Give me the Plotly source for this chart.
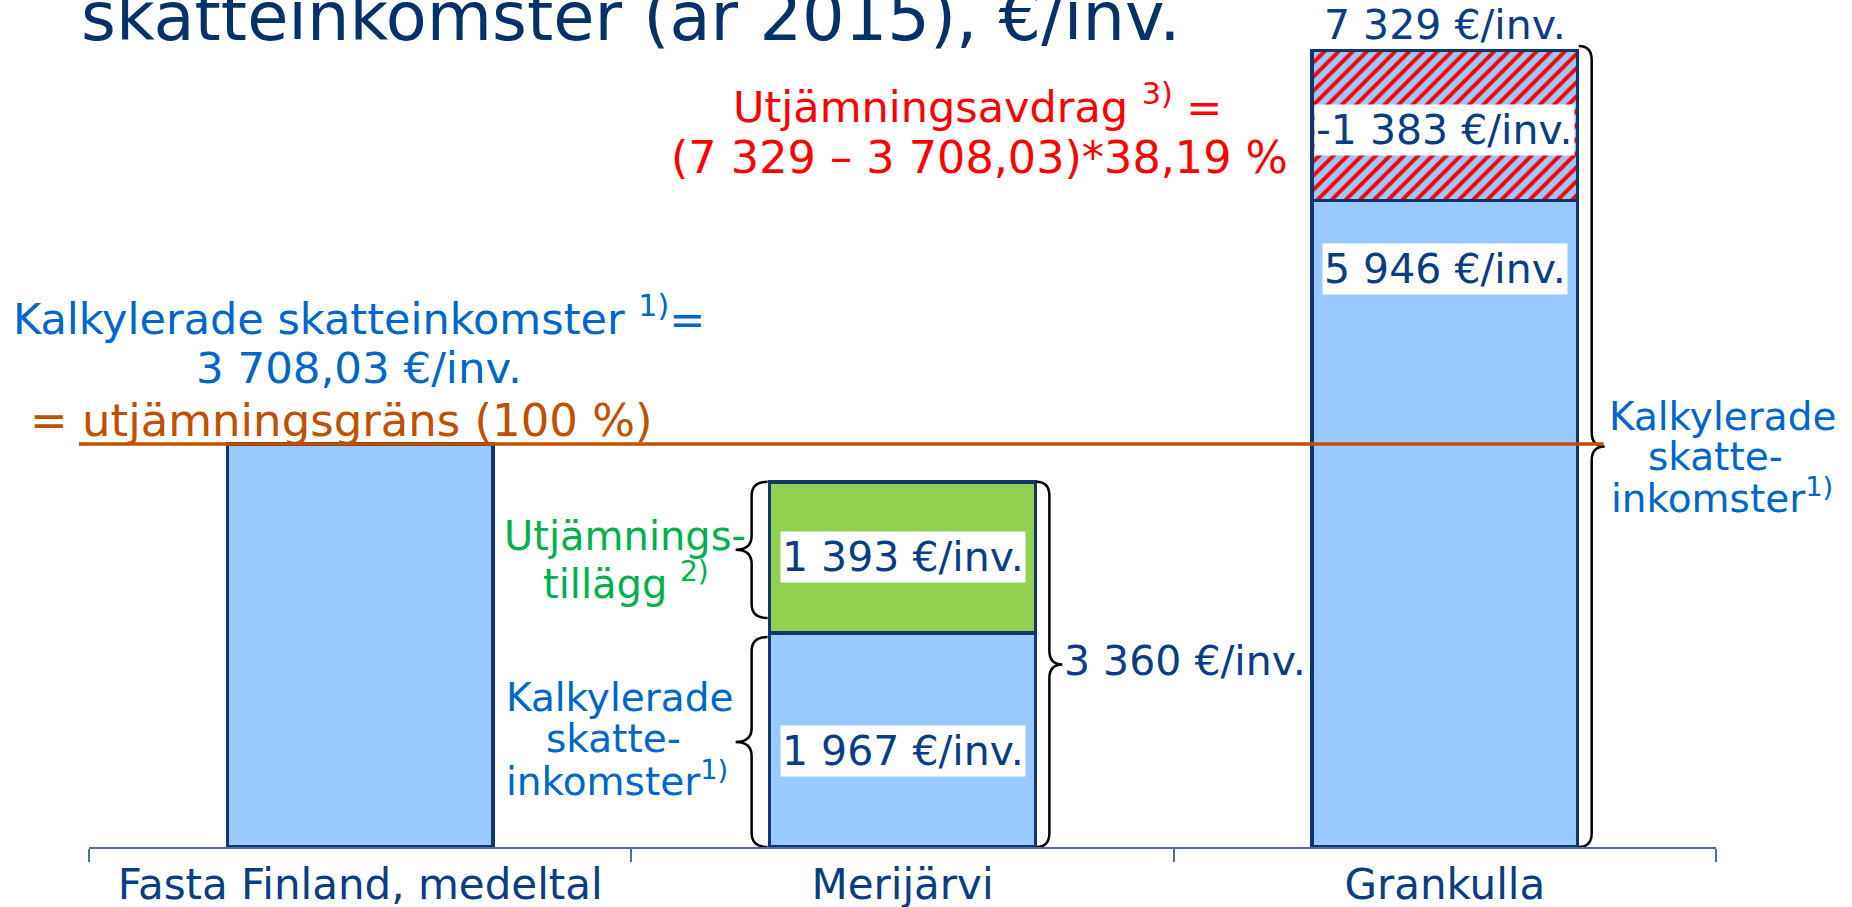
import plotly.graph_objects as go

# ---------------- data ----------------
categories = ["Fasta Finland, medeltal", "Merijärvi", "Grankulla"]
kalkylerade = [3708.03, 1967, 5946]          # Kalkylerade skatteinkomster
tillagg = [None, 1393, None]                 # Utjämningstillägg
avdrag = [None, None, 1383]                  # Utjämningsavdrag (hatched)
totals = [3708.03, 3360, 7329]
grans = 3708.03                              # utjämningsgräns (100 %)

# ---------------- geometry / style ----------------
W, H = 1852, 907
ML, MR, MT, MB = 89, 136, 0, 60
PW, PH = W - ML - MR, H - MT - MB
Y_MAX = 7792
BAR_W = 0.49
UX = 3.0 / PW            # data units per pixel (x)
UY = Y_MAX / PH          # data units per pixel (y)

LIGHT_BLUE = "#99C9FF"
GREEN = "#92D050"
OUTLINE = "#12366B"
NAVY_TXT = "#0A3D84"
TITLE_C = "#073167"
BLUE_TXT = "#0066CC"
GREEN_TXT = "#00B050"
RED = "#FF0000"
ORANGE = "#C04F00"
AXIS_C = "#4F6E9C"
FONT = "DejaVu Sans"


def fmt(v):
    return f"{v:,.0f}".replace(",", " ") + " €/inv."


def px_x(p):
    return (p - ML) / PW


def px_y(p):
    return 1 - (p - MT) / PH


fig = go.Figure()
xs = list(range(len(categories)))
fig.add_bar(x=xs, y=kalkylerade, width=BAR_W, name="Kalkylerade skatteinkomster",
            marker=dict(color=LIGHT_BLUE, line=dict(color=OUTLINE, width=3.5)))
fig.add_bar(x=xs, y=tillagg, width=BAR_W, name="Utjämningstillägg",
            marker=dict(color=GREEN, line=dict(color=OUTLINE, width=3.5)))
fig.add_bar(x=xs, y=avdrag, width=BAR_W, name="Utjämningsavdrag",
            marker=dict(color=LIGHT_BLUE, line=dict(color=OUTLINE, width=3.5),
                        pattern=dict(shape="/", fgcolor=RED, bgcolor=LIGHT_BLUE,
                                     size=10, solidity=0.4)))


def brace(x_edge, y0, y1, w_px, direction, r_px=14):
    w = direction * w_px * UX
    r = r_px * UY
    xm = x_edge + w / 2
    xt = x_edge + w
    ym = (y0 + y1) / 2
    return (f"M {x_edge},{y1} Q {xm},{y1} {xm},{y1 - r} L {xm},{ym + r} "
            f"Q {xm},{ym} {xt},{ym} Q {xm},{ym} {xm},{ym - r} L {xm},{y0 + r} "
            f"Q {xm},{y0} {x_edge},{y0}")


shapes = []
brace_style = dict(type="path", xref="x", yref="y", line=dict(color="black", width=2.5))
# Merijärvi, left braces
left_edge = 1 - BAR_W / 2 - 2 * UX
shapes.append(dict(path=brace(left_edge, kalkylerade[1] + 140, totals[1], 32, -1), **brace_style))
shapes.append(dict(path=brace(left_edge, 0, kalkylerade[1] - 35, 32, -1), **brace_style))
# Merijärvi, right brace
shapes.append(dict(path=brace(1 + BAR_W / 2 + 1 * UX, 0, totals[1], 26, 1), **brace_style))
# Grankulla, right brace
shapes.append(dict(path=brace(2 + BAR_W / 2 + 1 * UX, 0, totals[2] + 40, 26, 1), **brace_style))
# utjämningsgräns line
tip = 2 + BAR_W / 2 + 26 * UX
shapes.append(dict(type="line", xref="paper", yref="y",
                   x0=px_x(79), x1=(tip + 0.5) / 3, y0=grans, y1=grans,
                   line=dict(color=ORANGE, width=3.5)))

ann = []


def A(text, x, y, size, color, xref="paper", yref="paper", xanchor="center",
      yanchor="middle", bg=None, yshift=0, xshift=0, pad=0):
    d = dict(text=text, x=x, y=y, xref=xref, yref=yref, xanchor=xanchor,
             yanchor=yanchor, showarrow=False, font=dict(family=FONT, size=size, color=color),
             yshift=yshift, xshift=xshift, borderpad=pad)
    if bg:
        d["bgcolor"] = bg
    ann.append(d)


# title (cropped at top of slide)
A("skatteinkomster (år 2015), €/inv.", px_x(80), px_y(17), 67, TITLE_C, xanchor="left")

# value labels
A(fmt(totals[2]), 2, totals[2], 41, NAVY_TXT, xref="x", yref="y", yanchor="bottom")
A("-" + fmt(avdrag[2]), 2, kalkylerade[2] + avdrag[2] / 2, 41, NAVY_TXT, xref="x", yref="y",
  bg="white", yshift=-4, pad=1)
A(fmt(kalkylerade[2]), 2, kalkylerade[2], 41, NAVY_TXT, xref="x", yref="y",
  yanchor="top", bg="white", yshift=-42, pad=1)
A(fmt(tillagg[1]), 1, kalkylerade[1] + tillagg[1] / 2, 41, NAVY_TXT, xref="x", yref="y",
  bg="white", pad=1)
A(fmt(kalkylerade[1]), 1, kalkylerade[1] / 2, 41, NAVY_TXT, xref="x", yref="y", bg="white",
  yshift=-11, pad=1)
A(fmt(totals[1]), 1 + BAR_W / 2, totals[1] / 2, 41, NAVY_TXT, xref="x", yref="y",
  xanchor="left", xshift=28, yshift=3)

# red formula
A("Utjämningsavdrag <sup>3)</sup> =", px_x(978), px_y(104), 43, RED)
A("(7 329 – 3 708,03)*38,19 %", px_x(980), px_y(157), 44.5, RED)

# left explanation
A("Kalkylerade skatteinkomster <sup>1)</sup>=", px_x(359), px_y(316), 43, BLUE_TXT)
A("3 708,03 €/inv.", px_x(359), px_y(368), 43.5, BLUE_TXT)
A("= utjämningsgräns (100 %)", px_x(341), px_y(420), 45, ORANGE)

# Merijärvi side labels
A("Utjämnings-", px_x(625), px_y(536), 40, GREEN_TXT)
A("tillägg <sup>2)</sup>", px_x(626), px_y(581), 40, GREEN_TXT)
A("Kalkylerade", px_x(619), px_y(697), 39, BLUE_TXT)
A("skatte-", px_x(613), px_y(738), 39, BLUE_TXT)
A("inkomster<sup>1)</sup>", px_x(617), px_y(779), 39, BLUE_TXT)

# Grankulla side labels
A("Kalkylerade", px_x(1722), px_y(416), 39, BLUE_TXT)
A("skatte-", px_x(1715), px_y(456), 39, BLUE_TXT)
A("inkomster<sup>1)</sup>", px_x(1722), px_y(496), 39, BLUE_TXT)

fig.update_layout(
    template="none",
    width=W, height=H,
    margin=dict(l=ML, r=MR, t=MT, b=MB, pad=0, autoexpand=False),
    paper_bgcolor="white", plot_bgcolor="white",
    barmode="stack", showlegend=False,
    shapes=shapes, annotations=ann,
    font=dict(family=FONT),
    xaxis=dict(range=[-0.5, 2.5], tickvals=xs, ticktext=categories, ticks="",
               showline=True, linecolor=AXIS_C, linewidth=1.5, showgrid=False,
               zeroline=False, layer="below traces", automargin=False,
               tickfont=dict(family=FONT, size=42, color=NAVY_TXT), ticklabelstandoff=0,
               minor=dict(tickvals=[-0.5, 0.5, 1.5, 2.5], ticks="outside", ticklen=13,
                          tickwidth=1.5, tickcolor=AXIS_C, showgrid=False)),
    yaxis=dict(range=[0, Y_MAX], visible=False, showgrid=False, zeroline=False,
               automargin=False),
)

fig.write_html("out.html", config={"displayModeBar": False},
               post_script="document.body.style.margin='0';document.body.style.overflow='hidden';")
